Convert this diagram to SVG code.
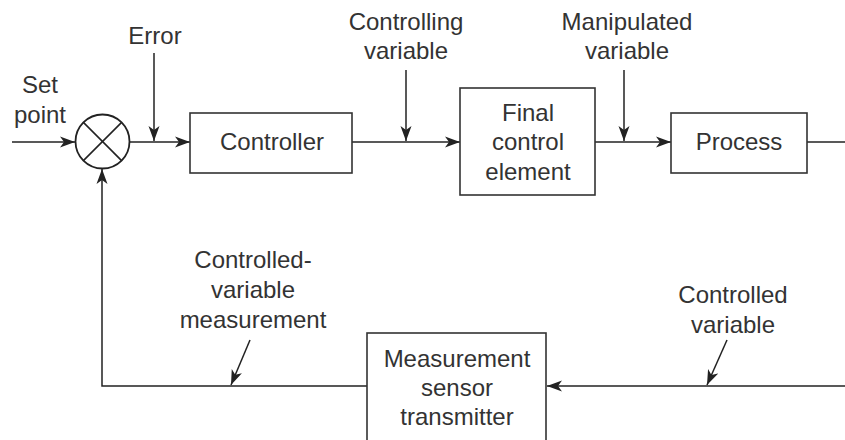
<svg xmlns="http://www.w3.org/2000/svg" width="845" height="440" viewBox="0 0 845 440">
<style>
.box{fill:#fff;stroke:#333;stroke-width:1.6}
.ln{fill:none;stroke:#222;stroke-width:1.5}
.arr{marker-end:url(#ah)}
text{font-family:"Liberation Sans",Arial,sans-serif;font-size:24px;fill:#333;text-anchor:middle}
</style>
<defs>
<marker id="ah" markerWidth="16" markerHeight="12" viewBox="0 0 16 12" refX="15" refY="6" orient="auto" markerUnits="userSpaceOnUse">
<path d="M0,0.5 L15,6 L0,11.5 L4,6 Z" fill="#222"/>
</marker>
</defs>
<rect width="845" height="440" fill="#fff"/>
<g id="connectors">
<line class="ln arr" x1="12" y1="142" x2="75" y2="142"/>
<line class="ln arr" x1="130" y1="142" x2="190" y2="142"/>
<line class="ln arr" x1="352" y1="142" x2="460" y2="142"/>
<line class="ln arr" x1="595" y1="142" x2="671" y2="142"/>
<line class="ln" x1="807" y1="142" x2="845" y2="142"/>
<line class="ln arr" x1="845" y1="386" x2="547" y2="386"/>
<polyline class="ln arr" points="367,386 102,386 102,169"/>
<line class="ln arr" x1="154" y1="53" x2="154" y2="141"/>
<line class="ln arr" x1="406" y1="70" x2="406" y2="141"/>
<line class="ln arr" x1="624" y1="70" x2="624" y2="141"/>
<line class="ln arr" x1="250" y1="340" x2="231" y2="385"/>
<line class="ln arr" x1="727" y1="340" x2="707" y2="385"/>
</g>
<g id="sum">
<circle cx="102.5" cy="141.5" r="27" fill="#fff" stroke="#222" stroke-width="1.8"/>
<line x1="83.4" y1="122.4" x2="121.6" y2="160.6" stroke="#222" stroke-width="1.6"/>
<line x1="121.6" y1="122.4" x2="83.4" y2="160.6" stroke="#222" stroke-width="1.6"/>
</g>
<g id="controller">
<rect class="box" x="190" y="113" width="162" height="60"/>
<text x="272" y="150">Controller</text>
</g>
<g id="final-control-element">
<rect class="box" x="460" y="88" width="135" height="107"/>
<text x="528" y="121">Final</text>
<text x="528" y="150">control</text>
<text x="528" y="180">element</text>
</g>
<g id="process">
<rect class="box" x="671" y="113" width="136" height="60"/>
<text x="739" y="150">Process</text>
</g>
<g id="measurement">
<rect class="box" x="367" y="333" width="179" height="120"/>
<text x="457" y="367">Measurement</text>
<text x="457" y="396">sensor</text>
<text x="457" y="425">transmitter</text>
</g>
<g id="labels">
<text x="40" y="93">Set</text>
<text x="40" y="123">point</text>
<text x="155" y="44">Error</text>
<text x="406" y="30">Controlling</text>
<text x="406" y="59">variable</text>
<text x="627" y="30">Manipulated</text>
<text x="627" y="59">variable</text>
<text x="253" y="268">Controlled-</text>
<text x="253" y="298">variable</text>
<text x="253" y="328">measurement</text>
<text x="733" y="303">Controlled</text>
<text x="733" y="333">variable</text>
</g>
</svg>
